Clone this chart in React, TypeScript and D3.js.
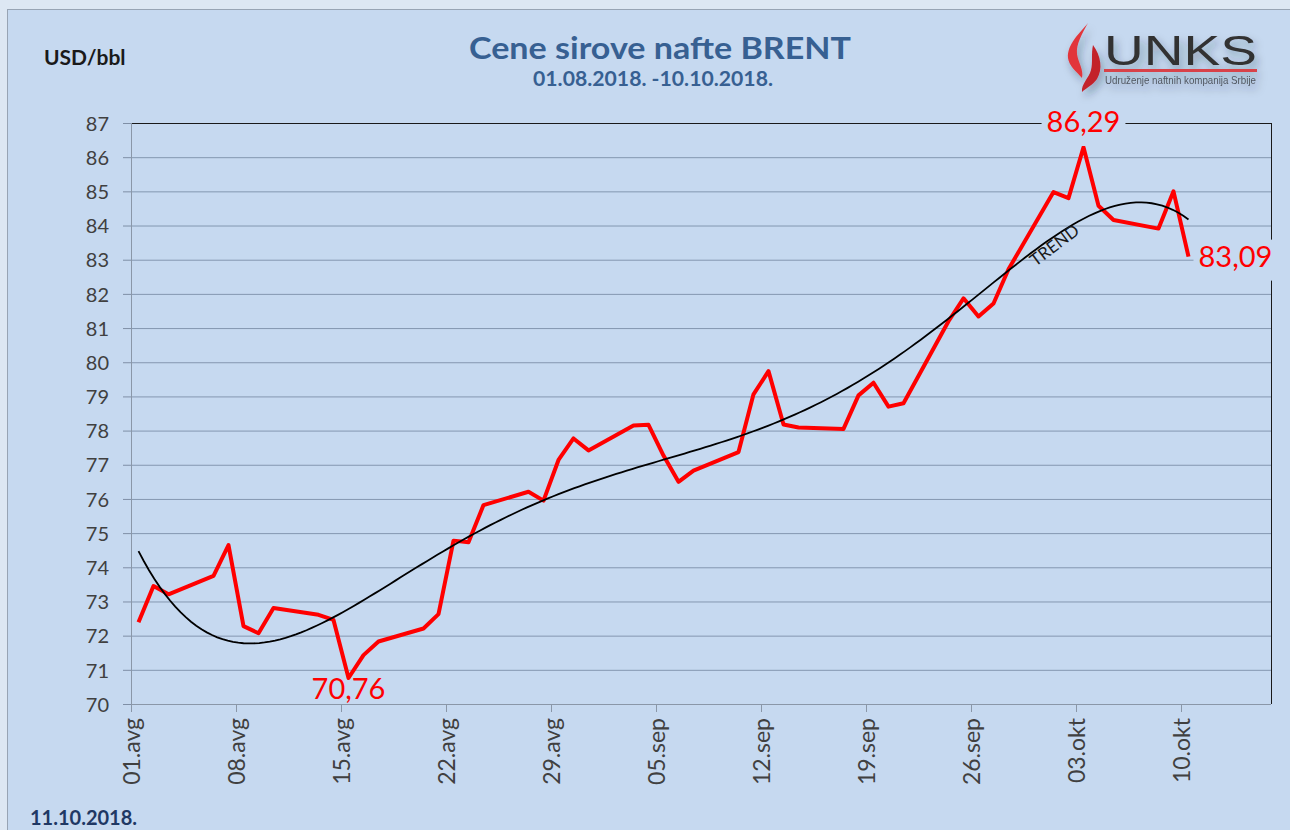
import { useEffect, useRef } from "react";
import * as d3 from "d3";

// Brent daily closes, USD/bbl
const dates: string[] = [
  "2018-08-01", "2018-08-02", "2018-08-03", "2018-08-06", "2018-08-07", "2018-08-08", "2018-08-09",
  "2018-08-10", "2018-08-13", "2018-08-14", "2018-08-15", "2018-08-16", "2018-08-17", "2018-08-20",
  "2018-08-21", "2018-08-22", "2018-08-23", "2018-08-24", "2018-08-27", "2018-08-28", "2018-08-29",
  "2018-08-30", "2018-08-31", "2018-09-03", "2018-09-04", "2018-09-05", "2018-09-06", "2018-09-07",
  "2018-09-10", "2018-09-11", "2018-09-12", "2018-09-13", "2018-09-14", "2018-09-17", "2018-09-18",
  "2018-09-19", "2018-09-20", "2018-09-21", "2018-09-24", "2018-09-25", "2018-09-26", "2018-09-27",
  "2018-09-28", "2018-10-01", "2018-10-02", "2018-10-03", "2018-10-04", "2018-10-05", "2018-10-08",
  "2018-10-09", "2018-10-10",
];
const prices: number[] = [
  72.39, 73.45, 73.21, 73.75, 74.65, 72.28, 72.07,
  72.81, 72.61, 72.46, 70.76, 71.43, 71.83, 72.21,
  72.63, 74.78, 74.73, 75.82, 76.21, 75.95, 77.14,
  77.77, 77.42, 78.15, 78.17, 77.27, 76.5, 76.83,
  77.37, 79.06, 79.74, 78.18, 78.09, 78.05, 79.03,
  79.4, 78.7, 78.8, 81.2, 81.87, 81.34, 81.72,
  82.72, 84.98, 84.8, 86.29, 84.58, 84.16, 83.91,
  85.0, 83.09,
];
const tickDates: string[] = [
  "2018-08-01", "2018-08-08", "2018-08-15", "2018-08-22", "2018-08-29", "2018-09-05",
  "2018-09-12", "2018-09-19", "2018-09-26", "2018-10-03", "2018-10-10",
];
const tickLabels: string[] = [
  "01.avg", "08.avg", "15.avg", "22.avg", "29.avg", "05.sep",
  "12.sep", "19.sep", "26.sep", "03.okt", "10.okt",
];
// labelled points: index into prices, placement
const callouts = [
  { i: 45, pos: "top" },
  { i: 10, pos: "bottom" },
  { i: 50, pos: "right" },
];
const TREND_ORDER = 5;

const BG = "#c6d9f0";
const FONT = "Lato, 'Open Sans', sans-serif";

// least squares polynomial (like an Excel polynomial trendline)
function polyfit(xs: number[], ys: number[], order: number) {
  const n = order + 1;
  const A = Array.from({ length: n }, () => new Array(n + 1).fill(0));
  xs.forEach((x, k) => {
    const p = d3.range(n).map((i) => Math.pow(x, i));
    for (let i = 0; i < n; i++) {
      for (let j = 0; j < n; j++) A[i][j] += p[i] * p[j];
      A[i][n] += p[i] * ys[k];
    }
  });
  for (let c = 0; c < n; c++) {
    let piv = c;
    for (let r = c + 1; r < n; r++) if (Math.abs(A[r][c]) > Math.abs(A[piv][c])) piv = r;
    [A[c], A[piv]] = [A[piv], A[c]];
    for (let r = 0; r < n; r++) {
      if (r === c) continue;
      const f = A[r][c] / A[c][c];
      for (let k = c; k <= n; k++) A[r][k] -= f * A[c][k];
    }
  }
  return d3.range(n).map((i) => A[i][n] / A[i][i]);
}

export default function App() {
  const ref = useRef<SVGSVGElement>(null);

  useEffect(() => {
    const el = ref.current;
    if (!el) return;
    const W = 1290, H = 830;
    const M = { left: 131, right: 1271, top: 123, bottom: 704 };

    const svg = d3.select(el);
    svg.selectAll("*").remove();

    const parse = d3.utcParse("%Y-%m-%d");
    const DAY = 864e5;
    const start = parse("2018-08-01")!;
    const x = d3.scaleUtc()
      .domain([start, new Date(+start + 76 * DAY)])
      .range([M.left, M.right]);
    const y = d3.scaleLinear().domain([70, 87]).range([M.bottom, M.top]);

    const pts = dates.map((d, i) => ({ t: new Date(+parse(d)! + DAY / 2), v: prices[i] }));

    const defs = svg.append("defs");
    const f = defs.append("filter").attr("id", "shadow").attr("x", "-20%").attr("y", "-30%").attr("width", "150%").attr("height", "180%");
    f.append("feDropShadow").attr("dx", 3).attr("dy", 5).attr("stdDeviation", 4)
      .attr("flood-color", "#1c2a3a").attr("flood-opacity", 0.35);

    // frame
    svg.append("rect").attr("width", W).attr("height", H).attr("fill", "#dde7f3");
    svg.append("rect").attr("x", 7.5).attr("y", 9.5).attr("width", W).attr("height", H)
      .attr("fill", BG).attr("stroke", "#98a4b4");

    // grid
    svg.append("g")
      .attr("transform", `translate(${M.left},0)`)
      .call(d3.axisLeft(y).ticks(17).tickSize(8).tickFormat((v) => String(v)))
      .call((g) => g.select(".domain").remove())
      .call((g) => g.selectAll(".tick line").attr("stroke", "#7f8fa6"))
      .call((g) => g.selectAll(".tick text").attr("fill", "#404040")
        .style("font-family", FONT).style("font-size", "20px").attr("x", -22).attr("dy", "0.36em"))
      .call((g) => g.selectAll(".tick").append("line")
        .attr("x2", M.right - M.left)
        .attr("stroke", (d: any) => (d === 87 ? "#1a1a1a" : "#8497b0"))
        .attr("stroke-width", 1));

    // right border + axes lines
    svg.append("line").attr("x1", M.right + 0.5).attr("x2", M.right + 0.5)
      .attr("y1", M.top).attr("y2", M.bottom).attr("stroke", "#1a1a1a");
    svg.append("line").attr("x1", M.left + 0.5).attr("x2", M.left + 0.5)
      .attr("y1", M.top).attr("y2", M.bottom + 8).attr("stroke", "#8a97a8");

    // x axis
    svg.append("g")
      .attr("transform", `translate(0,${M.bottom})`)
      .call(d3.axisBottom(x).tickValues(tickDates.map((d) => parse(d)!)).tickSize(8)
        .tickFormat((_d, i) => tickLabels[i]))
      .call((g) => g.select(".domain").attr("stroke", "#8a97a8").attr("d", `M${M.left},0.5H${M.right}`))
      .call((g) => g.selectAll(".tick line").attr("stroke", "#8a97a8"))
      .call((g) => g.selectAll(".tick text")
        .attr("fill", "#404040")
        .style("font-family", FONT).style("font-size", "23px")
        .attr("transform", "rotate(-90)")
        .attr("text-anchor", "end")
        .attr("x", -14).attr("y", 0).attr("dy", "0.36em"));

    // price line
    svg.append("path").datum(pts)
      .attr("fill", "none").attr("stroke", "#ff0000").attr("stroke-width", 4)
      .attr("stroke-linejoin", "round")
      .attr("d", d3.line<any>().x((d) => x(d.t)).y((d) => y(d.v)));

    // polynomial trend
    const t0 = +start;
    const toU = (t: Date) => ((+t - t0) / DAY - 35) / 35;
    const tA = +pts[0].t, tB = +pts[pts.length - 1].t;
    const coef = polyfit(pts.map((p) => toU(p.t)), prices, TREND_ORDER);
    const evalP = (u: number) => coef.reduce((s, c, i) => s + c * Math.pow(u, i), 0);
    const trend = d3.range(0, 201).map((k) => {
      const t = new Date(tA + (tB - tA) * k / 200);
      return { t, v: evalP(toU(t)) };
    });
    svg.append("path").datum(trend)
      .attr("fill", "none").attr("stroke", "#000").attr("stroke-width", 1.8)
      .attr("d", d3.line<any>().x((d) => x(d.t)).y((d) => y(d.v)));

    svg.append("text")
      .attr("transform", "translate(1058,250) rotate(-37)")
      .attr("text-anchor", "middle")
      .style("font-family", FONT).style("font-size", "17px").attr("fill", "#1a1a1a")
      .text("TREND");

    // callouts
    callouts.forEach(({ i, pos }) => {
      const p = pts[i];
      const px = x(p.t), py = y(p.v);
      const label = prices[i].toFixed(2).replace(".", ",");
      const g = svg.append("g");
      let tx = px, ty = py, anchor = "middle";
      if (pos === "top") { ty = M.top + 9; }
      if (pos === "bottom") { ty = py + 21; }
      if (pos === "right") { tx = px + 10; ty = py + 10; anchor = "start"; }
      const txt = g.append("text").attr("x", tx).attr("y", ty).attr("text-anchor", anchor)
        .attr("fill", "#ff0000").style("font-family", FONT).style("font-size", "29px").text(label);
      if (pos !== "bottom") {
        const b = (txt.node() as SVGTextElement).getBBox();
        g.insert("rect", "text").attr("x", b.x - 5).attr("y", b.y + 2).attr("width", b.width + 10)
          .attr("height", b.height + 6).attr("fill", BG);
      }
    });

    // titles
    svg.append("text").attr("x", 660).attr("y", 59).attr("text-anchor", "middle")
      .attr("textLength", 382).attr("lengthAdjust", "spacingAndGlyphs")
      .style("font-family", FONT).style("font-weight", 700).style("font-size", "31px")
      .attr("fill", "#376092").text("Cene sirove nafte BRENT");
    svg.append("text").attr("x", 653).attr("y", 86).attr("text-anchor", "middle")
      .attr("textLength", 240).attr("lengthAdjust", "spacingAndGlyphs")
      .style("font-family", FONT).style("font-weight", 700).style("font-size", "20px")
      .attr("fill", "#376092").text("01.08.2018. -10.10.2018.");
    svg.append("text").attr("x", 44).attr("y", 65)
      .style("font-family", FONT).style("font-weight", 700).style("font-size", "21px")
      .attr("fill", "#1a1a1a").text("USD/bbl");
    svg.append("text").attr("x", 30).attr("y", 825)
      .style("font-family", FONT).style("font-weight", 700).style("font-size", "20px")
      .attr("fill", "#1f3864").text("11.10.2018.");

    // logo
    const logo = svg.append("g").attr("filter", "url(#shadow)");
    logo.append("path").attr("fill", "#e2363b")
      .attr("d", "M1088,23 C1080,33 1067,44 1068,58 C1069,66 1076,71 1082,78 C1084,70 1078,62 1077,54 C1076,44 1082,34 1088,23 Z");
    logo.append("path").attr("fill", "#c3222b")
      .attr("d", "M1093,45 C1101,56 1103,69 1097,79 C1093,85 1086,88 1082,92 C1081,84 1089,78 1091,70 C1093,62 1091,54 1093,45 Z");
    logo.append("text").attr("x", 1104).attr("y", 65)
      .attr("textLength", 153).attr("lengthAdjust", "spacingAndGlyphs")
      .style("font-family", "'Liberation Sans', Arial, sans-serif").style("font-size", "43px")
      .attr("fill", "#333333").text("UNKS");
    logo.append("rect").attr("x", 1104).attr("y", 69).attr("width", 153).attr("height", 3).attr("fill", "#d8434a");
    logo.append("text").attr("x", 1105).attr("y", 84)
      .attr("textLength", 151).attr("lengthAdjust", "spacingAndGlyphs")
      .style("font-family", "'Liberation Sans Narrow', 'Liberation Sans', Arial, sans-serif").style("font-size", "10.5px")
      .attr("fill", "#4f5560").text("Udruženje naftnih kompanija Srbije");
  }, []);

  return (
    <div style={{ position: "absolute", left: 0, top: 0 }}>
      <svg ref={ref} width={1290} height={830} style={{ display: "block" }} />
    </div>
  );
}
